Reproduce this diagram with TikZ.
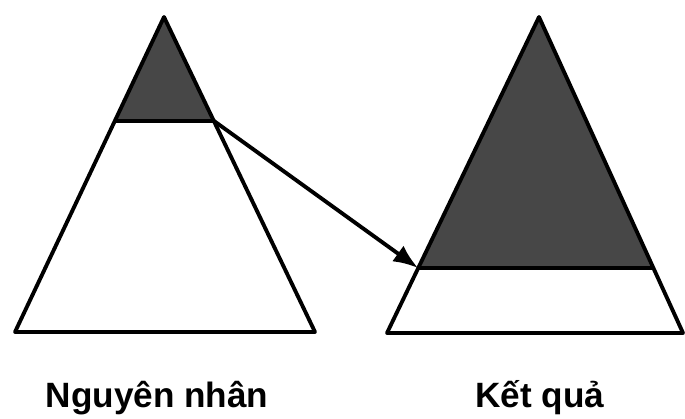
\documentclass[tikz,border=0pt]{standalone}
\usepackage{fontspec}
\setmainfont{Liberation Sans}
\usetikzlibrary{arrows.meta}

\begin{document}
\begin{tikzpicture}[>={Latex[length=7pt,width=5.5pt]},x=0.01cm,y=-0.01cm,line width=1.1pt,line join=round,
  shade/.style={fill=black!72},lbl/.style={anchor=base,font=\fontsize{10}{12}\selectfont\bfseries}]
  \useasboundingbox (0,0) rectangle (685,419);
  % left triangle
  \coordinate (a1) at (164,17);\coordinate (b1) at (15,332);\coordinate (c1) at (315,332);
  \coordinate (l1) at (115,121);\coordinate (r1) at (214,121);
  \fill[shade] (a1)--(l1)--(r1)--cycle;
  \draw (a1)--(b1)--(c1)--cycle; \draw (l1)--(r1);
  % right triangle
  \coordinate (a2) at (539,17);\coordinate (b2) at (387,333);\coordinate (c2) at (683,333);
  \coordinate (l2) at (418,268);\coordinate (r2) at (654,268);
  \fill[shade] (a2)--(l2)--(r2)--cycle;
  \draw (a2)--(b2)--(c2)--cycle; \draw (l2)--(r2);
  \draw[->] (r1)--(l2);
  \node[lbl] (cause) at (157,408) {Nguyên nhân};
  \node[lbl] (effect) at (540,408) {Kết quả};
\end{tikzpicture}
\end{document}
